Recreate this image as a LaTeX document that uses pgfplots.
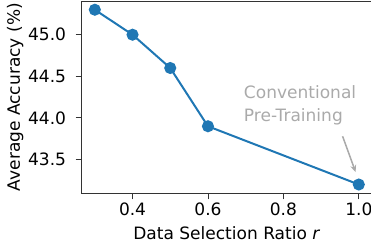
\documentclass[border=0pt]{standalone}
\usepackage{fontspec}
\setmainfont{DejaVu Sans}
\usepackage{pgfplots}
\pgfplotsset{compat=1.18}
\usetikzlibrary{arrows.meta}
\definecolor{tabblue}{HTML}{1F77B4}
\definecolor{annot}{HTML}{AAAAAA}
\begin{document}
\begin{tikzpicture}
\begin{axis}[
  name=ax,
  scale only axis,
  width=290pt, height=192pt,
  xmin=0.265, xmax=1.035,
  ymin=43.095, ymax=45.405,
  xtick={0.4,0.6,0.8,1.0},
  ytick={43.5,44.0,44.5,45.0},
  xticklabel style={yshift=0pt,/pgf/number format/.cd,fixed,fixed zerofill,precision=1},
  yticklabel style={xshift=-6pt,/pgf/number format/.cd,fixed,fixed zerofill,precision=1},
  /pgf/number format/assume math mode=true,
  tick align=outside,
  xtick pos=bottom, ytick pos=left,
  major tick length=6pt,
  tick style={black!80, line width=0.9pt},
  axis line style={black!80, line width=1pt},
  ticklabel style={font=\fontsize{17}{20}\selectfont},
  label style={font=\fontsize{17}{20}\selectfont},
  xlabel={Data Selection Ratio \textit{r}},
  ylabel={Average Accuracy (\%)},
  xlabel style={yshift=-4pt},
  ylabel style={yshift=-2pt},
  clip=false,
]
\addplot[tabblue, line width=2pt, mark=*, mark size=5pt, mark options={fill=tabblue, draw=tabblue}]
  coordinates {(0.3,45.3) (0.4,45.0) (0.5,44.6) (0.6,43.9) (1.0,43.2)};
\node[anchor=north west, align=left, text=annot, inner sep=0pt,
  font=\fontsize{17}{23}\selectfont] at (axis cs:0.695,44.39) {Conventional\\Pre-Training};
\draw[annot, line width=1.5pt, -{Stealth[length=7pt,width=6pt]}] (axis cs:0.957,43.78) -- (axis cs:0.9915,43.35);
\end{axis}
\pgfresetboundingbox
\path[use as bounding box] ([xshift=-3.5pt,yshift=-1.5pt]ax.outer south west) rectangle ([xshift=-1pt,yshift=1pt]ax.north east);
\end{tikzpicture}
\end{document}
